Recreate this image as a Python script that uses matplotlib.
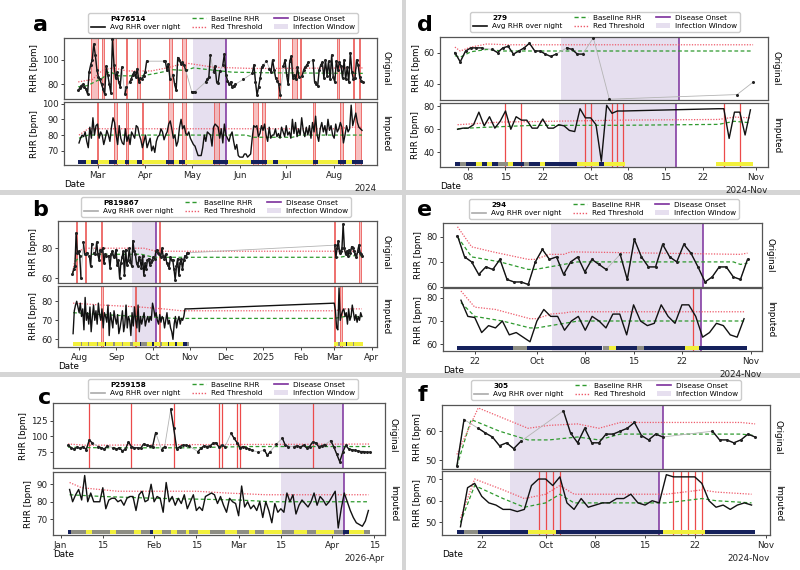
import numpy as np
import pandas as pd
import matplotlib
matplotlib.use("Agg")
import matplotlib.pyplot as plt
import matplotlib.dates as mdates
from matplotlib.lines import Line2D
from matplotlib.patches import Patch, Rectangle

nan = np.nan
W, H = 800, 570

# ---------------- a : P476514 ----------------
a_id = "P476514"
a_orig = [
    75, 77, 79, 80, 78, 76, 72,
    90, 96, 100, 113, 104, 92, 86,
    84, 80, 76, 72, 95, 88, 80,
    73, 117, 96, 85, 90, 82, 78,
    94, nan, 72, 78, nan, 82, 84,
    88, 90, 86, 93, 82, 85, 84,
    87, 90, 99, nan, nan, nan, nan,
    nan, nan, nan, nan, nan, nan, 99,
    99, 92, 97, 84, nan, 88, 80,
    75, 102, 100, 97, 98, 96, 92,
    nan, nan, nan, 74, 74, 74, nan,
    nan, nan, nan, nan, nan, 82, 84,
    86, 104, nan, 90, 95, 82, 81,
    91, nan, 96, 105, 88, 83, 80,
    82, 78, 79, 80, nan, nan, nan,
    nan, 84, nan, nan, nan, nan, nan,
    89, 96, 82, 71, 78, 85, 94,
    96, nan, 99, nan, 93, 90, 100,
    92, 85, 83, 80, 71, nan, 95,
    100, 88, 80, 99, 103, 85, 88,
    84, 94, 86, nan, 87, 92, 94,
    96, 98, nan, nan, 100, 82, 80,
    79, 92, 96, 98, 85, 100, 87,
    99, 84, 104, 86, 82, 99, 92,
    98, 95, 85, 100, 84, 94, 82,
    106, 90, 84, 85, 100, 96, 86,
    83, 82,
]
a_imp = [
    75, 78, 80, 79, 82, 76, 72,
    85, 78, 91, 80, 86, 87, 78,
    82, 80, 74, 78, 83, 80, 76,
    85, 91, 88, 80, 74, 86, 78,
    75, 74, 84, 76, 80, 74, 82,
    80, 78, 86, 85, 80, 77, 72,
    76, 80, 72, 75, 78, 70, 73,
    69, 76, 79, 80, 84, 82, 77,
    80, 82, 87, 89, 84, 78, 80,
    73, 76, 85, 90, 84, 86, 81,
    80, 82, 78, 76, 74, 73, 70,
    67, 67, 67, 72, 80, 76, 82,
    81, 80, 73, 85, 87, 86, 85,
    78, 84, 75, 87, 80, 78, 76,
    80, 82, 76, 71, 74, 67, 66,
    66, 66, 68, 68, 66, 67, 68,
    78, 86, 85, 86, 79, 81, 86,
    83, 87, 80, 76, 85, 78, 80,
    80, 84, 79, 81, 78, 85, 82,
    79, 86, 80, 82, 78, 90, 81,
    88, 79, 84, 80, 91, 83, 79,
    85, 80, 86, 78, 88, 82, 92,
    80, 76, 84, 88, 82, 86, 80,
    90, 83, 86, 80, 78, 87, 82,
    84, 88, 85, 75, 80, 86, 82,
    84, 99, 86, 90, 94, 88, 85,
    84, 83,
]
a_base_o_d = ["2024-02-18", "2024-02-24", "2024-03-05", "2024-03-09", "2024-03-15", "2024-03-30",
              "2024-04-08", "2024-04-19", "2024-04-27", "2024-05-02", "2024-05-15", "2024-05-27",
              "2024-06-18", "2024-08-19"]
a_base_o_v = [78, 79, 85.5, 90.5, 87, 87, 89, 92, 91.4, 93.5, 91.6, 90, 89.5, 89]
a_thr_o_d = ["2024-02-18", "2024-02-27", "2024-03-05", "2024-03-12", "2024-03-20", "2024-04-05",
             "2024-04-15", "2024-04-27", "2024-05-05", "2024-05-15", "2024-06-10", "2024-08-19"]
a_thr_o_v = [82, 84, 92, 93.5, 91, 91, 93.5, 97.5, 96, 94, 93, 93.5]
a_base_i_d = ["2024-02-18", "2024-02-24", "2024-06-05", "2024-06-10", "2024-07-05", "2024-07-10", "2024-08-19"]
a_base_i_v = [78, 80, 80, 78.6, 78.6, 80, 80]
a_thr_i_d = ["2024-02-18", "2024-02-24", "2024-08-05", "2024-08-10", "2024-08-19"]
a_thr_i_v = [80, 84, 84, 85, 85]
a_alert_o = [("2024-02-27", "2024-03-01"), "2024-03-05", ("2024-03-12", "2024-03-13"), "2024-03-20",
             ("2024-03-27", "2024-03-28"), ("2024-04-17", "2024-04-18"), ("2024-04-25", "2024-04-27"),
             "2024-06-26", ("2024-07-05", "2024-07-07"), "2024-07-10", "2024-08-03", "2024-08-13",
             "2024-08-17"]
a_alert_i = ["2024-03-01", ("2024-03-12", "2024-03-13"), "2024-03-20", "2024-03-30",
             ("2024-04-16", "2024-04-18"), ("2024-04-25", "2024-04-27"), ("2024-05-16", "2024-05-18"),
             ("2024-06-10", "2024-06-12"), ("2024-06-16", "2024-06-17"), "2024-07-19",
             ("2024-08-05", "2024-08-06"), ("2024-08-15", "2024-08-18")]
a_window = ("2024-05-02", "2024-05-23")
a_onset = "2024-05-23"
a_strip = [("2024-02-18", "2024-02-22", "n"), ("2024-02-23", "2024-02-25", "y"), ("2024-02-26", "2024-03-01", "n"),
           ("2024-03-02", "2024-03-08", "y"), ("2024-03-09", "2024-03-13", "n"), ("2024-03-14", "2024-03-18", "y"),
           ("2024-03-19", "2024-03-21", "n"), ("2024-03-22", "2024-03-26", "y"), ("2024-03-27", "2024-03-29", "n"),
           ("2024-03-30", "2024-04-14", "y"), ("2024-04-15", "2024-04-19", "n"), ("2024-04-20", "2024-04-22", "y"),
           ("2024-04-23", "2024-04-26", "n"), ("2024-04-27", "2024-05-14", "y"), ("2024-05-15", "2024-05-24", "n"),
           ("2024-05-25", "2024-06-08", "y"), ("2024-06-09", "2024-06-18", "n"), ("2024-06-19", "2024-06-22", "y"),
           ("2024-06-23", "2024-06-25", "n"), ("2024-06-26", "2024-07-18", "y"), ("2024-07-19", "2024-07-21", "n"),
           ("2024-07-22", "2024-08-03", "y"), ("2024-08-04", "2024-08-08", "n"), ("2024-08-09", "2024-08-12", "y"),
           ("2024-08-13", "2024-08-19", "n")]

# ---------------- b : P819867 ----------------
b_id = "P819867"
b_orig1 = [
    63, 66, 68, 90, 77,
    78, 75, 60, nan, 84, 76, 76, 77, nan, 75, 68, 83, nan, 77, 76, 84,
    76, 72, 79, 78, 80, 70, 76, 75, nan, 75, 67, 76, 78, 74, 75,
    79, 69, 72, 60, 70, 74, 78, 62, 79, 69, 72, 80, 71, 68, 85,
    78, 76, 70, 68, 74, 72, 67, 75, 62, 70, 66, 72, 73, 69, 71,
    72, 74, 73, 78, 79, 77, 76, 74, 80, 75, 73, 76, 70, 69, 67,
    74, 72, 72, 66, 59, 68, 73, 62, 70, 73, 66, 72, 75, 74, 77, 77,
]
b_orig2 = [82, 74, 80, 85, 77, 78, 80, 96, 80, 76, 78, 75, 79, 77, 81, 80, 78, 76, 74, 78, 82, 77, 76, 75]
b_imp1 = [
    63, 75, 78, 80, 77,
    74, 79, 72, 76, 65, 82, 70, 74, 68, 77, 64, 72, 78, 70, 75, 68,
    79, 73, 70, 76, 66, 74, 72, 69, 78, 62, 74, 70, 66, 75, 71,
    68, 73, 63, 66, 70, 75, 64, 68, 78, 66, 72, 70, 62, 74, 67,
    77, 70, 66, 78, 64, 72, 68, 71, 74, 67, 70, 72, 69, 72, 70,
    79, 76, 72, 74, 70, 68, 73, 69, 72, 71, 66, 70, 74, 68, 70,
    66, 64, 60, 68, 72, 66, 70, 72, 68, 71, 70, 72, 76, 76, 76, 76,
]
b_imp2 = [79, 75, 66, 65, 87, 70, 73, 75, 76, 72, 74, 68, 76, 70, 72, 78, 74, 70, 73, 69, 72, 70, 74, 72]
b_base_o_d = ["2024-07-27", "2024-07-30", "2024-08-02", "2024-08-06", "2024-09-22", "2024-10-02",
              "2025-03-05", "2025-03-12", "2025-03-24"]
b_base_o_v = [63, 72, 74, 76, 76, 74, 74, 75, 75]
b_thr_o_d = ["2024-07-27", "2024-07-30", "2024-08-05", "2024-09-24", "2024-10-04", "2025-03-24"]
b_thr_o_v = [64, 76, 80, 80, 78, 78]
b_base_i_d = ["2024-07-27", "2024-08-20", "2024-09-20", "2024-10-20", "2025-03-01", "2025-03-10", "2025-03-24"]
b_base_i_v = [74, 73, 72, 71, 71, 72, 72]
b_thr_i_d = ["2024-07-27", "2024-08-20", "2024-09-20", "2024-10-10", "2024-10-25", "2025-03-01", "2025-03-10", "2025-03-24"]
b_thr_i_v = [79, 78, 77, 76, 75, 75, 76, 76]
b_alert_o = ["2024-07-30", "2024-08-07", "2024-08-20", "2024-10-07", "2025-03-01", "2025-03-22"]
b_alert_i = ["2024-08-20", "2024-09-17", "2024-10-07", "2025-03-01", ("2025-03-06", "2025-03-07")]
b_window = ("2024-09-14", "2024-10-04")
b_onset = "2024-10-04"
b_strip = [("2024-07-27", "2024-08-02", "y"), ("2024-08-03", "2024-08-03", "g"), ("2024-08-04", "2024-08-08", "y"),
           ("2024-08-09", "2024-08-09", "g"), ("2024-08-10", "2024-08-15", "y"), ("2024-08-16", "2024-08-16", "g"),
           ("2024-08-17", "2024-08-22", "y"), ("2024-08-23", "2024-08-23", "n"), ("2024-08-24", "2024-08-29", "y"),
           ("2024-08-30", "2024-08-30", "g"), ("2024-08-31", "2024-09-05", "y"), ("2024-09-06", "2024-09-06", "g"),
           ("2024-09-07", "2024-09-12", "y"), ("2024-09-13", "2024-09-14", "g"), ("2024-09-15", "2024-09-20", "y"),
           ("2024-09-21", "2024-09-21", "n"), ("2024-09-22", "2024-09-26", "g"), ("2024-09-27", "2024-09-30", "y"),
           ("2024-10-01", "2024-10-02", "n"), ("2024-10-03", "2024-10-07", "y"), ("2024-10-08", "2024-10-08", "g"),
           ("2024-10-09", "2024-10-13", "y"), ("2024-10-14", "2024-10-14", "n"), ("2024-10-15", "2024-10-19", "y"),
           ("2024-10-20", "2024-10-21", "n"), ("2024-10-22", "2024-10-26", "y"), ("2024-10-27", "2024-10-29", "n"),
           ("2024-10-30", "2024-10-31", "g"),
           ("2025-03-01", "2025-03-04", "y"), ("2025-03-05", "2025-03-05", "g"), ("2025-03-06", "2025-03-10", "y"),
           ("2025-03-11", "2025-03-11", "n"), ("2025-03-12", "2025-03-16", "y"), ("2025-03-17", "2025-03-17", "g"),
           ("2025-03-18", "2025-03-24", "y")]

# ---------------- c : P259158 ----------------
c_id = "P259158"
c_orig = [
    86, 82, 80, 83, 81, 84, 79,
    94, 90, nan, 84, 82, 80, 85,
    nan, 82, 80, 82, 77, 80, 91,
    84, 82, 82, 81, 88, 86, 85,
    84, 106, nan, 79, 84, nan, 143,
    113, 80, 84, 86, 86, 85, nan,
    nan, 76, 81, 85, 84, 85, 89,
    90, 83, 86, 84, nan, 105, 97,
    90, 82, 84, 82, 80, 78, nan,
    75, nan, 79, 70, 76, nan, 88,
    nan, 97, 86, 84, nan, 84, 85,
    83, 86, 82, 84, 91, 90, 84,
    85, 87, nan, 93, 84, 72, 60,
    75, 86, 80, 79, 78, 77, 76,
    76, 75, 75,
]
c_imp = [
    87, 80, 84, 87, 81, 95, 80,
    85, 80, 80, 80, 88, 76, 81,
    82, 82, 80, 81, 78, 82, 83,
    83, 75, 84, 86, 80, 81, 90,
    80, 83, 82, 74, 91, 80, 83,
    78, 82, 79, 84, 76, 80, 84,
    75, 77, 75, 83, 84, 85, 84,
    79, 83, 78, 74, 82, 80, 79,
    72, 89, 77, 80, 76, 78, 75,
    80, 71, 80, 75, 68, 79, 74,
    76, 74, 85, 80, 84, 73, 78,
    81, 79, 77, 80, 85, 78, 83,
    81, 78, 80, 83, 86, 65, 76,
    85, 80, 75, 71, 68, 67, 66,
    69, 75,
]
c_base_o_d = ["2026-01-04", "2026-01-15", "2026-02-15", "2026-02-22", "2026-03-05", "2026-04-14"]
c_base_o_v = [83, 82, 82, 83, 84, 84]
c_thr_o_d = ["2026-01-04", "2026-01-10", "2026-02-10", "2026-03-20", "2026-04-14"]
c_thr_o_v = [88, 86, 87, 87.5, 88]
c_base_i_d = ["2026-01-04", "2026-01-15", "2026-02-01", "2026-03-01", "2026-03-12", "2026-04-13"]
c_base_i_v = [84, 83, 82, 81, 80, 80]
c_thr_i_d = ["2026-01-04", "2026-01-08", "2026-01-20", "2026-02-15", "2026-02-25", "2026-03-10", "2026-04-13"]
c_thr_i_v = [91, 88, 86, 86, 85, 84, 84]
c_alert_o = ["2026-01-11", "2026-01-25", "2026-02-08", "2026-02-23", "2026-02-24", "2026-03-01",
             "2026-03-02", "2026-03-26"]
c_alert_i = []
c_window = ("2026-03-15", "2026-04-05")
c_onset = "2026-04-05"
c_strip = [("2026-01-04", "2026-01-04", "n"), ("2026-01-05", "2026-01-09", "g"), ("2026-01-10", "2026-01-11", "y"),
           ("2026-01-12", "2026-01-17", "g"), ("2026-01-18", "2026-01-19", "y"), ("2026-01-20", "2026-01-25", "g"),
           ("2026-01-26", "2026-01-27", "y"), ("2026-01-28", "2026-01-30", "g"), ("2026-01-31", "2026-01-31", "n"),
           ("2026-02-01", "2026-02-03", "y"), ("2026-02-04", "2026-02-06", "g"), ("2026-02-07", "2026-02-08", "y"),
           ("2026-02-09", "2026-02-11", "g"), ("2026-02-12", "2026-02-12", "y"), ("2026-02-13", "2026-02-15", "g"),
           ("2026-02-16", "2026-02-19", "y"), ("2026-02-20", "2026-02-24", "g"), ("2026-02-25", "2026-02-28", "y"),
           ("2026-03-01", "2026-03-04", "g"), ("2026-03-05", "2026-03-06", "y"), ("2026-03-07", "2026-03-09", "g"),
           ("2026-03-10", "2026-03-15", "y"), ("2026-03-16", "2026-03-19", "g"), ("2026-03-20", "2026-03-23", "y"),
           ("2026-03-24", "2026-03-26", "g"), ("2026-03-27", "2026-04-01", "y"), ("2026-04-02", "2026-04-04", "g"),
           ("2026-04-05", "2026-04-06", "n"), ("2026-04-07", "2026-04-11", "y"), ("2026-04-12", "2026-04-13", "g")]

# ---------------- d : 279 ----------------
d_id = "279"
d_orig1 = [60, 54, 61, 63, 63, 63, nan, 62, 60, 63, 64, 59, 61, 63, 66, 61, 61, 59, 57.5, 59,
           nan, 63, 62, 59, 59, nan, 69.5]
d_orig2 = [30]
d_orig3 = [33]
d_orig4 = [41]
d_imp1 = [60, 61, 61, 64, 75, 63, 71, 61, 67, 76, 60, 71, 68, 68, 61, 61, 69, 61, 61, 64,
          63, 59, 58, 78, 70, 70, 64, 32, 81, 74, 76, 76]
d_imp2 = [78, 78, 52, 75, 75, 55, 77]
d_base_o_d = ["2024-09-05", "2024-09-06", "2024-09-08", "2024-09-11", "2024-09-14", "2024-10-31"]
d_base_o_v = [58, 57, 60.5, 62, 61, 61]
d_thr_o_d = ["2024-09-05", "2024-09-06", "2024-09-08", "2024-09-11", "2024-09-15", "2024-10-31"]
d_thr_o_v = [63.5, 61, 63.5, 65.5, 65, 65]
d_base_i_d = ["2024-09-06", "2024-09-10", "2024-09-20", "2024-10-07", "2024-10-25", "2024-10-28", "2024-10-31"]
d_base_i_v = [60.5, 61.5, 63.4, 63.5, 64.3, 67, 65.7]
d_thr_i_d = ["2024-09-06", "2024-09-14", "2024-09-26", "2024-10-07", "2024-10-25", "2024-10-28", "2024-10-31"]
d_thr_i_v = [64, 66.3, 67.2, 68, 68.6, 70.7, 70]
d_alert_o = []
d_alert_i = ["2024-09-15", "2024-09-18", "2024-09-30", "2024-10-01", "2024-10-05", "2024-10-06",
             "2024-10-07", "2024-10-26", "2024-10-29"]
d_window = ("2024-09-25", "2024-10-17")
d_onset = "2024-10-17"
d_strip = [("2024-09-06", "2024-09-06", "n"), ("2024-09-07", "2024-09-07", "g"), ("2024-09-08", "2024-09-09", "n"),
           ("2024-09-10", "2024-09-10", "y"), ("2024-09-11", "2024-09-11", "n"), ("2024-09-12", "2024-09-12", "y"),
           ("2024-09-13", "2024-09-13", "n"), ("2024-09-14", "2024-09-15", "g"), ("2024-09-16", "2024-09-16", "y"),
           ("2024-09-17", "2024-09-18", "n"), ("2024-09-19", "2024-09-19", "g"), ("2024-09-20", "2024-09-21", "n"),
           ("2024-09-22", "2024-09-22", "y"), ("2024-09-23", "2024-09-28", "n"), ("2024-09-29", "2024-10-02", "y"),
           ("2024-10-03", "2024-10-03", "n"), ("2024-10-04", "2024-10-07", "y"), ("2024-10-25", "2024-10-31", "y")]

# ---------------- e : 294 ----------------
e_id = "294"
e_orig = [80.4, 72, 70, 65, 68, 67, 71, 63, 62, 62, 61,
          70, 75, 71, 72, 65, 70, 72, 66, 71, 69, 67, nan, 73, 63, 79, 72, 68, 68, 77,
          72, 70, 77, 73.5, 68, 62, 64, 68, 68, 64, 63, 71]
e_imp = [79, 72, 71.5, 65, 68, 67, 70, 64, 65, 63, 61,
         70, 75, 72, 72, 66, 70, 72, 66, 72, 70, 67, 73, 73, 64, 77, 70, 68, 69, 77,
         72, 69, 77, 77, 72, 63, 65, 69, 68, 64, 63, 71]
e_base_o_d = ["2024-09-20", "2024-09-22", "2024-09-26", "2024-09-30", "2024-10-01", "2024-10-05",
              "2024-10-07", "2024-10-29", "2024-10-30", "2024-10-31"]
e_base_o_v = [80, 72, 70, 67, 67, 69, 70, 70, 69, 69.5]
e_thr_o_d = ["2024-09-20", "2024-09-22", "2024-09-25", "2024-09-30", "2024-10-01", "2024-10-03",
             "2024-10-05", "2024-10-06", "2024-10-30", "2024-10-31"]
e_thr_o_v = [84, 76, 74, 71, 71, 73, 73, 74, 73, 73.5]
e_base_i_d = ["2024-09-20", "2024-09-22", "2024-09-26", "2024-09-30", "2024-10-01", "2024-10-05",
              "2024-10-07", "2024-10-31"]
e_base_i_v = [78, 72, 70, 67, 67, 69, 70, 70]
e_thr_i_d = ["2024-09-20", "2024-09-22", "2024-09-25", "2024-09-30", "2024-10-01", "2024-10-03",
             "2024-10-05", "2024-10-06", "2024-10-31"]
e_thr_i_v = [83, 76, 75, 71, 71, 73, 73.5, 74, 74]
e_alert_o = []
e_alert_i = ["2024-10-23 16:00"]
e_window = ("2024-10-03 06:00", "2024-10-24 18:00")
e_onset = "2024-10-24 18:00"
e_strip = [("2024-09-20", "2024-09-27", "n"), ("2024-09-28", "2024-09-29", "g"), ("2024-09-30", "2024-10-10", "n"),
           ("2024-10-11", "2024-10-11", "g"), ("2024-10-12", "2024-10-12", "y"), ("2024-10-13", "2024-10-15", "n"),
           ("2024-10-16", "2024-10-16", "g"), ("2024-10-17", "2024-10-22", "n"), ("2024-10-23", "2024-10-24", "y"),
           ("2024-10-25", "2024-10-31", "n")]

# ---------------- f : 305 ----------------
f_id = "305"
f_orig1 = [48, 64, nan, 61, 59.4, 58, 55, 56, 54, 56.5]
f_orig2 = [67, 59.4, 56, 61, 56, 56, 59, 59, 60, 61, 63, 58.5, 57, 59, 58]
f_orig3 = [60, 57, 57, 56, 57, 59, 58]
f_imp = [48, 66, 68, 62, 59, 58, 56, 56, 55, 56, 67, 70, 70, 67, 71, 59, 56, 61, 57, 58,
         59, 59, 61, 61, 63, 59, 58, 60, 59, 72, 71, 71, 71, 71, 68, 60, 57, 58, 56, 58, 59, 58]
f_base_o_d = ["2024-09-18", "2024-09-20", "2024-09-24", "2024-09-28", "2024-10-01", "2024-10-05",
              "2024-10-08", "2024-10-11", "2024-10-28", "2024-10-30"]
f_base_o_v = [48, 64, 60, 57, 57, 58, 57, 59, 59, 58.5]
f_thr_o_d = ["2024-09-18", "2024-09-21", "2024-09-25", "2024-09-28", "2024-10-01", "2024-10-05",
             "2024-10-08", "2024-10-11", "2024-10-28", "2024-10-30"]
f_thr_o_v = [52, 68, 64, 61, 62, 62.5, 61, 63, 63, 62.5]
f_base_i_d = ["2024-09-19", "2024-09-21", "2024-09-25", "2024-09-28", "2024-10-01", "2024-10-03",
              "2024-10-05", "2024-10-18", "2024-10-23", "2024-10-25", "2024-10-30"]
f_base_i_v = [50, 67, 61, 57, 59, 63, 59, 59, 61, 60, 59]
f_thr_i_d = ["2024-09-19", "2024-09-21", "2024-09-25", "2024-09-28", "2024-10-01", "2024-10-03",
             "2024-10-05", "2024-10-18", "2024-10-23", "2024-10-25", "2024-10-30"]
f_thr_i_v = [52, 70, 65, 61, 63, 67, 63, 63, 65, 64, 63]
f_alert_o = []
f_alert_i = ["2024-09-30", "2024-10-01", "2024-10-02", "2024-10-03", "2024-10-19", "2024-10-20",
             "2024-10-21", "2024-10-22", "2024-10-23"]
f_window = ("2024-09-26", "2024-10-17")
f_onset = "2024-10-17"
f_strip = [("2024-09-19", "2024-09-19", "n"), ("2024-09-20", "2024-09-21", "g"), ("2024-09-22", "2024-09-28", "n"),
           ("2024-09-29", "2024-10-02", "y"), ("2024-10-03", "2024-10-17", "n"), ("2024-10-18", "2024-10-23", "y"),
           ("2024-10-24", "2024-10-30", "n")]

STRIP_COL = {"n": "#15215c", "y": "#f2f03c", "g": "#8e8e84"}
DAY = pd.Timedelta(days=1)
FS = 6.3


def series(chunks):
    parts = [pd.Series(v, index=pd.date_range(s, periods=len(v), freq="D"), dtype=float) for s, v in chunks]
    return pd.concat(parts)


def box(l, t, r, b):
    return [l / W, 1 - b / H, (r - l) / W, (b - t) / H]


def draw_alerts(ax, alerts, style):
    for item in alerts:
        s, e = (item, item) if isinstance(item, str) else item
        s, e = pd.Timestamp(s), pd.Timestamp(e)
        if style == "span":
            ax.axvspan(s - 0.5 * DAY, e + 0.5 * DAY, fc="#f4a6a6", alpha=0.7, ec="#e8403c", lw=0.7, zorder=1)
        else:
            ax.axvline(s, color="#ec4a4a", lw=0.9, zorder=1)
            if e != s:
                ax.axvline(e, color="#ec4a4a", lw=0.9, zorder=1)


def draw_axis(ax, kind, s, base, thr, alerts, style, window, onset, ylim, yticks, strip=None):
    ax.axvspan(pd.Timestamp(window[0]), pd.Timestamp(window[1]), color="#e6dfef", lw=0, zorder=0)
    draw_alerts(ax, alerts, style)
    ax.axvline(pd.Timestamp(onset), color="#7b2f9c", lw=1.1, zorder=2)
    ax.plot(pd.to_datetime(base[0]), base[1], color="#2f9a2f", lw=0.9, ls=(0, (3, 2)), zorder=3)
    ax.plot(pd.to_datetime(thr[0]), thr[1], color="#ee5a6a", lw=0.9, ls=(0, (1, 1.2)), zorder=3)
    if kind == "orig":
        obs = s.dropna()
        ax.plot(obs.index, obs.values, color="#b4b4b4", lw=0.6, zorder=4)
        full = s.reindex(pd.date_range(s.index.min(), s.index.max(), freq="D"))
        ax.plot(full.index, full.values, color="#111111", lw=1.0, zorder=5)
        ax.plot(obs.index, obs.values, ls="none", marker="o", ms=1.2, color="#222222", zorder=5)
        ax.tick_params(bottom=False, labelbottom=False)
    else:
        ax.plot(s.index, s.values, color="#111111", lw=1.0, zorder=5)
    if strip:
        for a, b, c in strip:
            x0 = mdates.date2num(pd.Timestamp(a) - 0.5 * DAY)
            x1 = mdates.date2num(pd.Timestamp(b) + 0.5 * DAY)
            ax.add_patch(Rectangle((x0, 0.02), x1 - x0, 0.055, transform=ax.get_xaxis_transform(),
                                   fc=STRIP_COL[c], ec="none", zorder=6))
    ax.set_ylim(*ylim)
    ax.set_yticks(yticks)
    ax.set_ylabel("RHR [bpm]", fontsize=FS, labelpad=2)
    ax.tick_params(labelsize=FS, length=2.5, width=0.6, colors="#222222", pad=1.5)
    for sp in ax.spines.values():
        sp.set_color("#555555")
        sp.set_linewidth(0.9)
    wpx = ax.get_position().width * W
    ax.text(1 + 4 / wpx, 0.5, "Original" if kind == "orig" else "Imputed", transform=ax.transAxes,
            rotation=270, va="center", ha="left", fontsize=FS)


fig = plt.figure(figsize=(W / 100, H / 100), dpi=100, facecolor="#d5d5d5")

for (x0, y0, x1, y1) in [(0, 0, 402, 190), (406, 0, 800, 190), (0, 195, 402, 372),
                         (406, 195, 800, 373), (0, 377, 402, 570), (406, 378, 800, 570)]:
    fig.add_artist(Rectangle((x0 / W, 1 - y1 / H), (x1 - x0) / W, (y1 - y0) / H,
                             transform=fig.transFigure, fc="white", ec="none", zorder=-10))

panels = [
    dict(letter="a", pid=a_id, lead="#111111",
         orig=series([("2024-02-18", a_orig)]), imp=series([("2024-02-18", a_imp)]),
         bo=(a_base_o_d, a_base_o_v), to=(a_thr_o_d, a_thr_o_v), bi=(a_base_i_d, a_base_i_v), ti=(a_thr_i_d, a_thr_i_v),
         ao=a_alert_o, ai=a_alert_i, style="span", win=a_window, onset=a_onset, strip=a_strip,
         ylo=(68, 118), yto=[80, 100], yli=(61, 101), yti=[70, 80, 90, 100],
         loc=mdates.MonthLocator(),
         bo_box=(64, 38, 377, 99), bi_box=(64, 102, 377, 165), leg=(223, 23), lab=(40, 25)),
    dict(letter="b", pid=b_id, lead="#aaaaaa",
         orig=series([("2024-07-27", b_orig1), ("2025-03-01", b_orig2)]),
         imp=series([("2024-07-27", b_imp1), ("2025-03-01", b_imp2)]),
         bo=(b_base_o_d, b_base_o_v), to=(b_thr_o_d, b_thr_o_v), bi=(b_base_i_d, b_base_i_v), ti=(b_thr_i_d, b_thr_i_v),
         ao=b_alert_o, ai=b_alert_i, style="span", win=b_window, onset=b_onset, strip=b_strip,
         ylo=(57, 98), yto=[60, 80], yli=(56, 88), yti=[60, 70, 80],
         loc=mdates.MonthLocator(),
         bo_box=(58, 221, 377, 283), bi_box=(58, 286, 377, 347), leg=(216, 207), lab=(40, 210)),
    dict(letter="c", pid=c_id, lead="#aaaaaa",
         orig=series([("2026-01-04", c_orig)]), imp=series([("2026-01-04", c_imp)]),
         bo=(c_base_o_d, c_base_o_v), to=(c_thr_o_d, c_thr_o_v), bi=(c_base_i_d, c_base_i_v), ti=(c_thr_i_d, c_thr_i_v),
         ao=c_alert_o, ai=c_alert_i, style="line", win=c_window, onset=c_onset, strip=c_strip,
         ylo=(50, 153), yto=[75, 100, 125], yli=(61, 97), yti=[70, 80, 90],
         loc=mdates.DayLocator(bymonthday=[1, 15]),
         bo_box=(53, 403, 385, 468), bi_box=(53, 472, 385, 535), leg=(223, 389), lab=(45, 398)),
    dict(letter="d", pid=d_id, lead="#111111",
         orig=series([("2024-09-05", d_orig1), ("2024-10-04", d_orig2), ("2024-10-28", d_orig3), ("2024-10-31", d_orig4)]),
         imp=series([("2024-09-06", d_imp1), ("2024-10-25", d_imp2)]),
         bo=(d_base_o_d, d_base_o_v), to=(d_thr_o_d, d_thr_o_v), bi=(d_base_i_d, d_base_i_v), ti=(d_thr_i_d, d_thr_i_v),
         ao=d_alert_o, ai=d_alert_i, style="line", win=d_window, onset=d_onset, strip=d_strip,
         ylo=(29.5, 70), yto=[40, 60], yli=(27, 83), yti=[40, 60, 80],
         loc=mdates.DayLocator(bymonthday=[1, 8, 15, 22]),
         bo_box=(440, 37, 768, 100), bi_box=(440, 103, 768, 167), leg=(605, 22), lab=(425, 25)),
    dict(letter="e", pid=e_id, lead="#aaaaaa",
         orig=series([("2024-09-20", e_orig)]), imp=series([("2024-09-20", e_imp)]),
         bo=(e_base_o_d, e_base_o_v), to=(e_thr_o_d, e_thr_o_v), bi=(e_base_i_d, e_base_i_v), ti=(e_thr_i_d, e_thr_i_v),
         ao=e_alert_o, ai=e_alert_i, style="line", win=e_window, onset=e_onset, strip=e_strip,
         ylo=(60, 85.5), yto=[60, 70, 80], yli=(57, 84.3), yti=[60, 70, 80],
         loc=mdates.DayLocator(bymonthday=[1, 8, 15, 22]),
         bo_box=(443, 223, 762, 287), bi_box=(443, 288, 762, 351), leg=(604, 209), lab=(425, 210)),
    dict(letter="f", pid=f_id, lead="#aaaaaa",
         orig=series([("2024-09-18", f_orig1), ("2024-10-03", f_orig2), ("2024-10-24", f_orig3)]),
         imp=series([("2024-09-19", f_imp)]),
         bo=(f_base_o_d, f_base_o_v), to=(f_thr_o_d, f_thr_o_v), bi=(f_base_i_d, f_base_i_v), ti=(f_thr_i_d, f_thr_i_v),
         ao=f_alert_o, ai=f_alert_i, style="line", win=f_window, onset=f_onset, strip=f_strip,
         ylo=(47, 69), yto=[50, 60], yli=(44.2, 73.7), yti=[50, 60, 70],
         loc=mdates.DayLocator(bymonthday=[1, 8, 15, 22]),
         bo_box=(442, 405, 770, 469), bi_box=(442, 471, 770, 535), leg=(606, 390), lab=(422, 395)),
]

for p in panels:
    ax_o = fig.add_axes(box(*p["bo_box"]))
    ax_i = fig.add_axes(box(*p["bi_box"]))
    draw_axis(ax_o, "orig", p["orig"], p["bo"], p["to"], p["ao"], p["style"], p["win"], p["onset"],
              p["ylo"], p["yto"])
    draw_axis(ax_i, "imp", p["imp"], p["bi"], p["ti"], p["ai"], p["style"], p["win"], p["onset"],
              p["yli"], p["yti"], strip=p["strip"])
    ax_i.xaxis.set_major_locator(p["loc"])
    ax_i.xaxis.set_major_formatter(mdates.ConciseDateFormatter(p["loc"]))
    ax_i.xaxis.get_offset_text().set_fontsize(FS)
    ax_i.set_xlabel("Date", loc="left", fontsize=FS, labelpad=0)

    handles = [Line2D([], [], color="none"),
               Line2D([], [], color=p["lead"], lw=1.2),
               Line2D([], [], color="#2f9a2f", lw=1.0, ls=(0, (3, 2))),
               Line2D([], [], color="#ee5a6a", lw=1.0, ls=(0, (1, 1.2))),
               Line2D([], [], color="#7b2f9c", lw=1.2),
               Patch(fc="#e6dfef", ec="none")]
    labels = [p["pid"], "Avg RHR over night", "Baseline RHR", "Red Threshold", "Disease Onset", "Infection Window"]
    cx, cy = p["leg"]
    leg = fig.legend(handles, labels, loc="center", bbox_to_anchor=(cx / W, 1 - cy / H), ncol=3,
                     fontsize=5.2, handlelength=2.0, columnspacing=1.5, handletextpad=0.7,
                     labelspacing=0.35, borderpad=0.35, frameon=True, edgecolor="#cccccc", framealpha=1)
    leg.get_texts()[0].set_fontweight("bold")
    lx, ly = p["lab"]
    fig.text(lx / W, 1 - ly / H, p["letter"], fontsize=16, fontweight="bold", ha="center", va="center")

fig.savefig("out.png", dpi=100, facecolor=fig.get_facecolor())
